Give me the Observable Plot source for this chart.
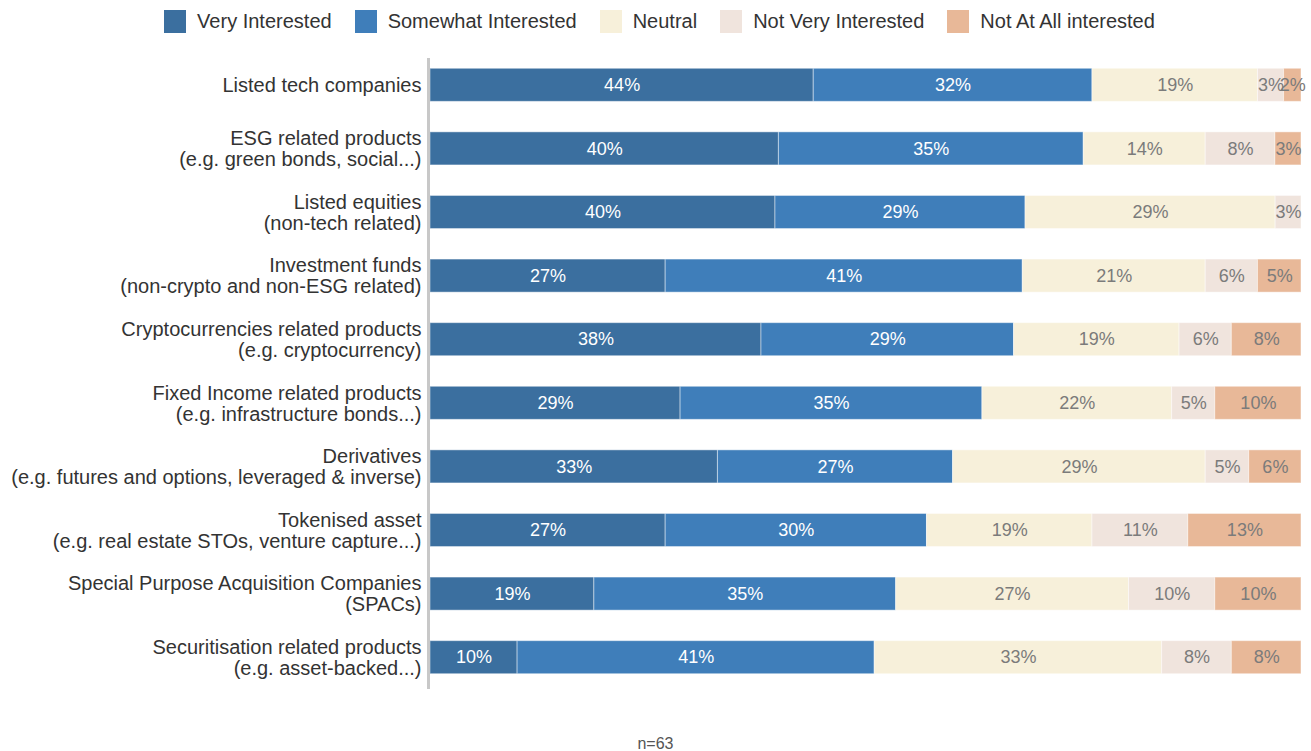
<!DOCTYPE html>
<html>
<head>
<meta charset="utf-8">
<script src="https://cdn.jsdelivr.net/npm/d3@7"></script>
<script src="https://cdn.jsdelivr.net/npm/@observablehq/plot@0.6"></script>
<style>
  body { margin: 0; background: #fff; font-family: "Liberation Sans", Arial, sans-serif; }
  #legend { height: 45px; display: flex; justify-content: center; align-items: flex-start; gap: 23px; padding-left: 8px; box-sizing: border-box; }
  .item { display: flex; align-items: center; margin-top: 10px; font-size: 20px; color: #333; }
  .sw { width: 22px; height: 23px; margin-right: 11px; }
  #caption { text-align: center; font-size: 16px; color: #555; padding-top: 20px; line-height: 18px; }
</style>
</head>
<body>
<div id="legend"></div>
<div id="chart"></div>
<div id="caption">n=63</div>
<script>
const items = [
  "Listed tech companies",
  "ESG related products\n(e.g. green bonds, social...)",
  "Listed equities\n(non-tech related)",
  "Investment funds\n(non-crypto and non-ESG related)",
  "Cryptocurrencies related products\n(e.g. cryptocurrency)",
  "Fixed Income related products\n(e.g. infrastructure bonds...)",
  "Derivatives\n(e.g. futures and options, leveraged & inverse)",
  "Tokenised asset\n(e.g. real estate STOs, venture capture...)",
  "Special Purpose Acquisition Companies\n(SPACs)",
  "Securitisation related products\n(e.g. asset-backed...)"
];
const responses = ["Very Interested", "Somewhat Interested", "Neutral", "Not Very Interested", "Not At All interested"];
const veryInterested = [44, 40, 40, 27, 38, 29, 33, 27, 19, 10];
const somewhatInterested = [32, 35, 29, 41, 29, 35, 27, 30, 35, 41];
const neutral = [19, 14, 29, 21, 19, 22, 29, 19, 27, 33];
const notVeryInterested = [3, 8, 3, 6, 6, 5, 5, 11, 10, 8];
const notAtAllInterested = [2, 3, 0, 5, 8, 10, 6, 13, 10, 8];
const colors = ["#3b6f9f", "#3f7eba", "#f7f0da", "#f0e4dd", "#e8b898"];
const labelColors = ["#ffffff", "#ffffff", "#7b7b7b", "#7b7b7b", "#7b7b7b"];

const series = [veryInterested, somewhatInterested, neutral, notVeryInterested, notAtAllInterested];
const data = [];
items.forEach((item, i) => {
  responses.forEach((r, j) => {
    data.push({item, response: r, value: series[j][i]});
  });
});
const colorOf = r => colors[responses.indexOf(r)];
const labelColorOf = r => labelColors[responses.indexOf(r)];

// Legend
const legend = document.getElementById("legend");
responses.forEach((r, j) => {
  const it = document.createElement("div");
  it.className = "item";
  const sw = document.createElement("div");
  sw.className = "sw";
  sw.style.background = colors[j];
  const tx = document.createElement("span");
  tx.textContent = r;
  it.appendChild(sw);
  it.appendChild(tx);
  legend.appendChild(it);
});

const stackOpts = {y: "item", x: "value", z: "response", order: responses, offset: "normalize"};

const chart = Plot.plot({
  width: 1311,
  height: 670,
  marginTop: 8,
  marginBottom: 26,
  marginLeft: 430,
  marginRight: 10,
  style: {fontFamily: "'Liberation Sans', Arial, sans-serif", background: "#fff"},
  x: {domain: [0, 1], axis: null},
  y: {domain: items, paddingInner: 0.48, paddingOuter: 0.24, round: false, label: null},
  color: {type: "identity"},
  marks: [
    Plot.barX(data, Plot.stackX({...stackOpts, fill: d => colorOf(d.response), stroke: "#ffffff", strokeWidth: 1, strokeOpacity: 0.45})),
    Plot.text(data, Plot.stackX({...stackOpts, text: d => d.value ? d.value + "%" : "", fill: d => labelColorOf(d.response), fontSize: 18})),
    Plot.ruleX([0], {stroke: "#c8c8c8", strokeWidth: 3, dx: -2, insetTop: 5}),
    Plot.axisY({tickSize: 0, tickPadding: 9, fontSize: 20, fill: "#333", lineHeight: 1.05, label: null})
  ]
});
document.getElementById("chart").appendChild(chart);
</script>
</body>
</html>
